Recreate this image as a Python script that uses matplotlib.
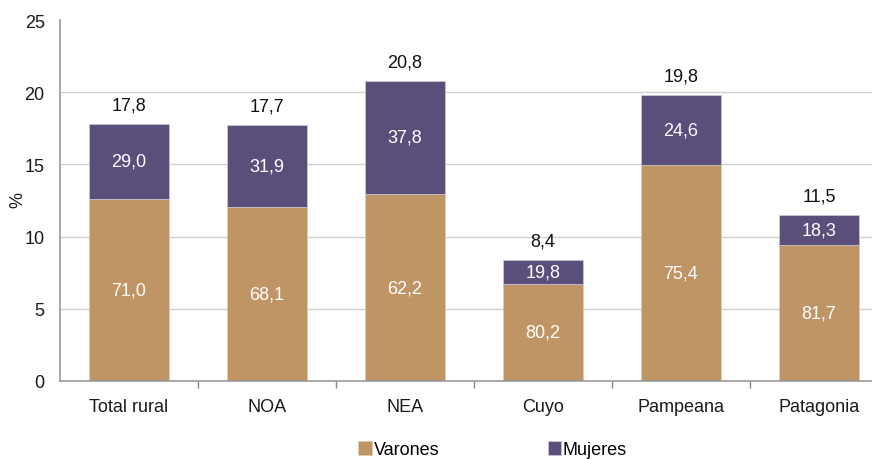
import matplotlib
matplotlib.use("Agg")
import matplotlib.pyplot as plt
import numpy as np

# Totals by region and share of men / women inside each total
regions = ["Total rural", "NOA", "NEA", "Cuyo", "Pampeana", "Patagonia"]
totals = [17.8, 17.7, 20.8, 8.4, 19.8, 11.5]
share_varones = [71.0, 68.1, 62.2, 80.2, 75.4, 81.7]
share_mujeres = [29.0, 31.9, 37.8, 19.8, 24.6, 18.3]

C_VAR = "#C09566"
C_MUJ = "#5A4E7B"
FS = 13

plt.rcParams["font.family"] = ["Liberation Sans", "DejaVu Sans"]

tot = np.array(totals)
h_var = tot * np.array(share_varones) / 100
h_muj = tot * np.array(share_mujeres) / 100
x = np.arange(len(regions))


def fmt(v):
    return f"{v:.1f}".replace(".", ",")


fig = plt.figure(figsize=(8.72, 4.6), dpi=100)
ax = fig.add_axes([60 / 872, 78 / 460, 828 / 872, 361 / 460])

ax.bar(x, h_var, 0.58, color=C_VAR, edgecolor="#E2CDB6", linewidth=0.5, label="Varones", zorder=2)
ax.bar(x, h_muj, 0.58, bottom=h_var, color=C_MUJ, edgecolor="#CFCBD9", linewidth=0.5,
       label="Mujeres", zorder=2)

for i in range(len(regions)):
    ax.text(x[i], h_var[i] / 2, fmt(share_varones[i]),
            ha="center", va="center", color="white", fontsize=FS)
    ax.text(x[i], h_var[i] + h_muj[i] / 2, fmt(share_mujeres[i]),
            ha="center", va="center", color="white", fontsize=FS)
    ax.annotate(fmt(totals[i]), xy=(x[i], totals[i]),
                xytext=(0, 19), textcoords="offset pixels",
                ha="center", va="center", fontsize=FS, color="#111111")

ax.set_xlim(-0.5, len(regions) - 0.5)
ax.set_ylim(0, 25)
ax.set_yticks([0, 5, 10, 15, 20, 25])
ax.set_xticks(x)
ax.set_xticklabels(regions, fontsize=FS, color="#1a1a1a")
ax.set_xticks(x[:-1] + 0.5, minor=True)
ax.tick_params(axis="x", which="major", length=0, pad=12)
ax.tick_params(axis="x", which="minor", length=5, color="#888888", width=1)
ax.tick_params(axis="y", length=0, labelsize=FS, labelcolor="#1a1a1a", pad=11)

# y-axis title placed by hand so it stays inside the figure
fig.text(18 / 872, 1 - 200 / 460, "%", rotation=90, ha="center", va="center",
         fontsize=FS, color="#1a1a1a")

for v in [5, 10, 15, 20]:
    ax.axhline(v, color="#D0D0D0", linewidth=1, zorder=0)
for s in ["top", "right"]:
    ax.spines[s].set_visible(False)
ax.spines["left"].set_color("#999999")
ax.spines["bottom"].set_color("#999999")
ax.spines["left"].set_linewidth(1.2)
ax.spines["bottom"].set_linewidth(1.2)

fig.legend(loc="center", bbox_to_anchor=(0.565, 0.02), ncol=2, frameon=False,
           fontsize=FS, handlelength=0.75, handleheight=0.75, handletextpad=0.1,
           columnspacing=6.0)

fig.savefig("out.png", dpi=100)
plt.close(fig)
